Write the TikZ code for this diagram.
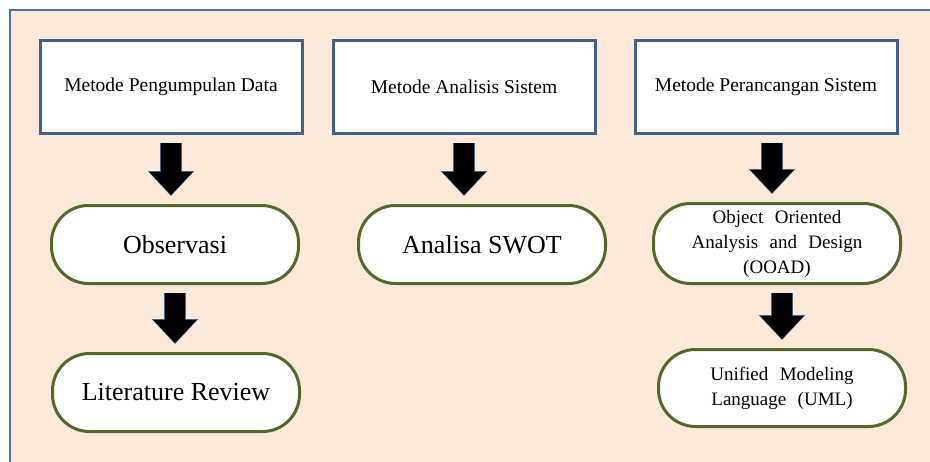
\documentclass[tikz,border=0pt]{standalone}
\usepackage{fontspec}
\setmainfont{Liberation Serif}
\usetikzlibrary{positioning,arrows.meta}

\definecolor{peach}{RGB}{253,233,218}
\definecolor{frameblue}{RGB}{79,112,160}
\definecolor{boxblue}{RGB}{66,96,140}
\definecolor{pillgreen}{RGB}{84,104,44}
\definecolor{arrowrim}{RGB}{70,95,130}

\begin{document}
\begin{tikzpicture}[x=1pt, y=-1pt,
  node distance=70pt,
  metode/.style={draw=boxblue, line width=3pt, fill=white, minimum width=262pt,
                 minimum height=93pt, font=\fontsize{19.5}{22}\selectfont, inner sep=2pt},
  pill/.style={draw=pillgreen, line width=3pt, fill=white, rounded corners=37pt,
               minimum width=247pt, minimum height=78pt, align=center, inner sep=2pt,
               font=\fontsize{26}{30}\selectfont},
  pillsm/.style={pill, font=\fontsize{19}{25}\selectfont,
                 execute at begin node={\spaceskip=.6em}},
  blk/.style={line width=20pt, black, -{Triangle[length=23pt, width=42pt]},
              shorten <=8pt, shorten >=9pt,
              preaction={draw=arrowrim, line width=22pt,
                         -{Triangle[length=25pt, width=45pt]}, shorten >=8pt}}]
\useasboundingbox (0,0) rectangle (930,461);
% frame behind everything
\draw[draw=frameblue, line width=2pt, fill=peach] (10,10) rectangle (945,480);
% three methods
\node[metode] (m1) at (171,87) {Metode Pengumpulan Data};
\node[metode] (m2) at (464,87) {Metode Analisis Sistem};
\node[metode] (m3) at (766,87) {Metode Perancangan Sistem};
% results
\node[pill, below=69pt of m1, xshift=4pt] (obs) {Observasi};
\node[pill, below=67pt of obs, xshift=1pt] (lit) {Literature Review};
\node[pill, below=69pt of m2, xshift=18pt] (swot) {Analisa SWOT};
\node[pillsm, below=67pt of m3, xshift=11pt, minimum height=80pt] (ooad)
  {Object Oriented\\Analysis and Design\\(OOAD)};
\node[pillsm, below=63pt of ooad, xshift=5pt, minimum height=77pt] (uml)
  {Unified Modeling\\Language (UML)};
% block arrows
\draw[blk] (m1.south) -- (m1.south |- obs.north);
\draw[blk] (obs.south) -- (obs.south |- lit.north);
\draw[blk] (m2.south) -- (m2.south |- swot.north);
\draw[blk] ([xshift=6pt]m3.south) -- ([xshift=6pt]m3.south |- ooad.north);
\draw[blk] (ooad.south -| uml.north) -- (uml.north);
\end{tikzpicture}
\end{document}
